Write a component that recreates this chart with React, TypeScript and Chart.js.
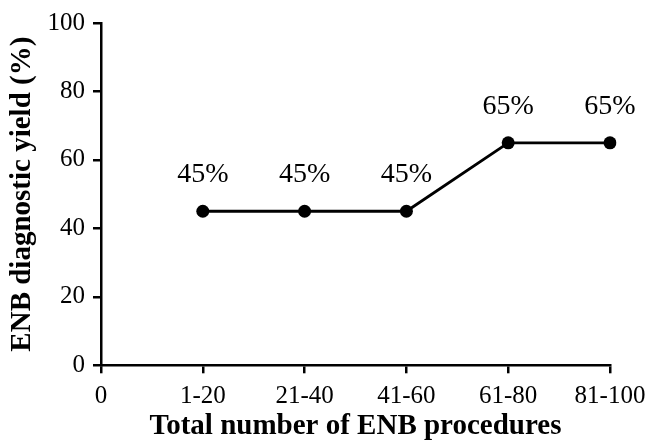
import React, { useEffect, useRef } from "react";
import { Chart, registerables } from "chart.js";

Chart.register(...registerables);

const categories = ["0", "1-20", "21-40", "41-60", "61-80", "81-100"];
const yieldValues: (number | null)[] = [null, 45, 45, 45, 65, 65];
const pointLabels = ["", "45%", "45%", "45%", "65%", "65%"];
const yMin = 0;
const yMax = 100;
const yStep = 20;

const FONT = "'Liberation Serif', 'Times New Roman', serif";

const labelPlugin = {
  id: "pointLabels",
  afterDatasetsDraw(chart: any) {
    const ctx = chart.ctx;
    const meta = chart.getDatasetMeta(0);
    ctx.save();
    ctx.font = `28px ${FONT}`;
    ctx.fillStyle = "#000";
    ctx.textAlign = "center";
    ctx.textBaseline = "alphabetic";
    meta.data.forEach((pt: any, i: number) => {
      if (yieldValues[i] == null) return;
      ctx.fillText(pointLabels[i], pt.x, pt.y - 29);
    });
    ctx.restore();
  },
};

export default function App() {
  const ref = useRef<HTMLCanvasElement | null>(null);
  useEffect(() => {
    if (!ref.current) return;
    const chart = new Chart(ref.current, {
      type: "line",
      data: {
        labels: categories,
        datasets: [
          {
            data: yieldValues,
            borderColor: "#000",
            backgroundColor: "#000",
            borderWidth: 2.8,
            pointRadius: 6.5,
            pointHoverRadius: 6.5,
            pointBorderWidth: 0,
            pointBackgroundColor: "#000",
            pointBorderColor: "#000",
            tension: 0,
            spanGaps: false,
          },
        ],
      },
      options: {
        animation: false,
        responsive: true,
        maintainAspectRatio: false,
        layout: { padding: { top: 23, right: 47, left: 5, bottom: 0 } },
        plugins: {
          legend: { display: false },
          tooltip: { enabled: false },
        },
        scales: {
          x: {
            offset: false,
            afterFit: (scale: any) => {
              scale.height = 78.7;
            },
            grid: {
              display: true,
              drawOnChartArea: false,
              drawTicks: true,
              tickLength: 8,
              color: "#000",
              lineWidth: 2.5,
            },
            border: { display: true, color: "#000", width: 2.5 },
            ticks: {
              color: "#000",
              font: { family: FONT, size: 25 },
              padding: 8,
              maxRotation: 0,
              autoSkip: false,
            },
            title: {
              display: true,
              text: "Total number of ENB procedures",
              color: "#000",
              font: { family: FONT, size: 29, weight: "bold" },
              padding: { top: 0, bottom: 0 },
            },
          },
          y: {
            min: yMin,
            max: yMax,
            afterFit: (scale: any) => {
              scale.width = 96;
            },
            grid: {
              display: true,
              drawOnChartArea: false,
              drawTicks: true,
              tickLength: 8,
              color: "#000",
              lineWidth: 2.5,
            },
            border: { display: true, color: "#000", width: 2.5 },
            ticks: {
              stepSize: yStep,
              color: "#000",
              font: { family: FONT, size: 25 },
              padding: 8,
            },
            title: {
              display: true,
              text: "ENB diagnostic yield (%)",
              color: "#000",
              font: { family: FONT, size: 29, weight: "bold" },
              padding: { top: 0, bottom: 0 },
            },
          },
        },
      },
      plugins: [labelPlugin],
    });
    return () => chart.destroy();
  }, []);
  return (
    <div style={{ position: "absolute", left: 0, top: 0, width: 657, height: 444, background: "#fff" }}>
      <canvas ref={ref} />
    </div>
  );
}
